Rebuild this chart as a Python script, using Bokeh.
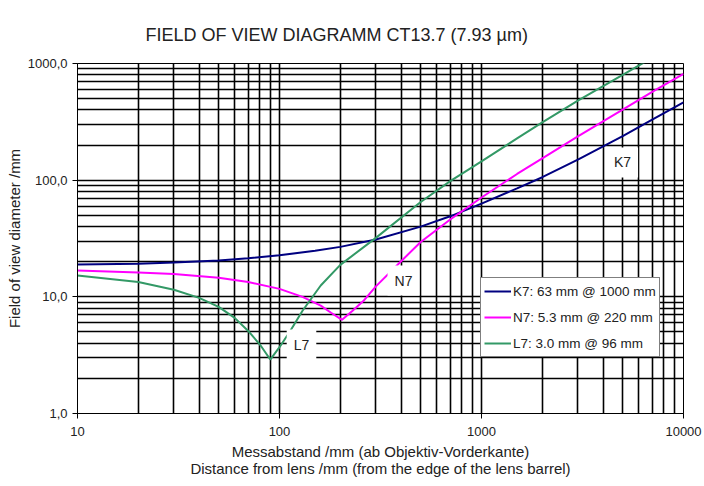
from bokeh.plotting import figure
from bokeh.models import FixedTicker, Legend, LegendItem, Label, Range1d
from bokeh.embed import file_html
from bokeh.resources import INLINE

# ---- data ----
dist_k7 = [10, 20, 30, 50, 70, 100, 150, 200, 300, 500, 700, 1000, 1500, 2000, 3000, 5000, 7000, 10000]
fov_k7 = [18.9, 19.2, 19.7, 20.5, 21.4, 22.7, 24.8, 26.8, 31, 40, 49, 63, 85, 106, 150, 238, 330, 465]

dist_n7 = [10, 20, 30, 50, 70, 100, 130, 160, 180, 204, 230, 260, 300, 400, 500, 700, 1000, 1500, 2000, 3000, 5000, 7000, 10000]
fov_n7 = [16.8, 16.2, 15.7, 14.6, 13.4, 11.7, 10.0, 8.4, 7.3, 6.35, 7.6, 9.2, 12.3, 20.2, 29.5, 46, 71, 113, 154, 237, 403, 570, 815]

dist_l7 = [10, 20, 30, 40, 50, 60, 70, 80, 90, 100, 113, 130, 160, 200, 300, 500, 700, 1000, 1500, 2000, 3000, 5000, 7000]
fov_l7 = [15.2, 13.4, 11.5, 9.8, 8.2, 6.6, 5.1, 3.9, 2.9, 3.7, 5.1, 7.6, 12.5, 18.8, 32, 65, 98, 145, 228, 313, 480, 800, 1120]

series_names = ["K7: 63 mm @ 1000 mm", "N7: 5.3 mm @ 220 mm", "L7: 3.0 mm @ 96 mm"]
curve_tags = ["K7", "N7", "L7"]
chart_title = "FIELD OF VIEW DIAGRAMM CT13.7 (7.93 \u00b5m)"

x_tick_vals = [10, 100, 1000, 10000]
x_tick_labels = ["10", "100", "1000", "10000"]
y_tick_vals = [1, 10, 100, 1000]
y_tick_labels = ["1,0", "10,0", "100,0", "1000,0"]

FONT = "Liberation Sans"
TXT = "#222222"

p = figure(width=704, height=486, x_axis_type="log", y_axis_type="log",
           x_range=Range1d(10, 10000), y_range=Range1d(1, 1000),
           output_backend="svg", toolbar_location=None,
           min_border_left=77, min_border_right=21, min_border_top=63, min_border_bottom=73)

p.title.text = chart_title
p.title.text_font = FONT
p.title.text_font_size = "18px"
p.title.text_font_style = "normal"
p.title.text_color = TXT
p.title.align = "left"
p.title.offset = 68
p.title.vertical_align = "bottom"
p.title.standoff = 37

p.outline_line_color = "black"
p.background_fill_color = "white"
p.border_fill_color = "white"

def minor_of(vals):
    out = []
    for v in vals[:-1]:
        out += [v * m for m in range(2, 10)]
    return out

xax = p.below[0]
yax = p.left[0]
xax.ticker = FixedTicker(ticks=x_tick_vals, minor_ticks=minor_of(x_tick_vals))
yax.ticker = FixedTicker(ticks=y_tick_vals, minor_ticks=minor_of(y_tick_vals))
xax.major_label_overrides = {v: s for v, s in zip(x_tick_vals, x_tick_labels)}
yax.major_label_overrides = {v: s for v, s in zip(y_tick_vals, y_tick_labels)}

for ax in (xax, yax):
    ax.axis_line_color = "black"
    ax.major_tick_line_color = "black"
    ax.major_tick_out = 5
    ax.major_tick_in = 0
    ax.minor_tick_out = 0
    ax.minor_tick_in = 0
    ax.major_label_text_font = FONT
    ax.major_label_text_font_size = "13px"
    ax.major_label_text_color = TXT
    ax.axis_label_text_font = FONT
    ax.axis_label_text_font_style = "normal"
    ax.axis_label_text_color = TXT

xax.axis_label = "Messabstand /mm (ab Objektiv-Vorderkante)\nDistance from lens /mm (from the edge of the lens barrel)"
xax.axis_label_text_font_size = "15px"
xax.axis_label_text_line_height = 1.0
xax.major_label_standoff = 8
xax.axis_label_standoff = 4
yax.axis_label = "Field of view diameter /mm"
yax.axis_label_text_font_size = "15px"
yax.major_label_standoff = 5
yax.axis_label_standoff = 2

for g in (p.xgrid, p.ygrid):
    g.grid_line_color = "black"
    g.grid_line_width = 1.6
    g.minor_grid_line_color = "black"
    g.minor_grid_line_width = 1.6

r_k7 = p.line(dist_k7, fov_k7, line_color="#000080", line_width=2)
r_n7 = p.line(dist_n7, fov_n7, line_color="#ff00ff", line_width=2)
r_l7 = p.line(dist_l7, fov_l7, line_color="#339966", line_width=2)

legend = Legend(items=[LegendItem(label=series_names[0], renderers=[r_k7]),
                       LegendItem(label=series_names[1], renderers=[r_n7]),
                       LegendItem(label=series_names[2], renderers=[r_l7])],
                location=(403, 56))
legend.border_line_color = "black"
legend.border_line_width = 1
legend.background_fill_color = "white"
legend.background_fill_alpha = 1
legend.padding = 3
legend.spacing = 6
legend.margin = 0
legend.glyph_width = 27
legend.glyph_height = 20
legend.label_height = 20
legend.label_standoff = 2
legend.label_text_font = FONT
legend.label_text_font_size = "13.5px"
legend.label_text_color = TXT
p.add_layout(legend, "center")

tag_pos = [(4990, 142), (411, 13.8), (128.5, 3.9)]
for tag, (tx, ty) in zip(curve_tags, tag_pos):
    p.add_layout(Label(x=tx, y=ty, text=tag, text_align="center", text_baseline="middle",
                       text_font=FONT, text_font_size="14px", text_color=TXT,
                       background_fill_color="white", background_fill_alpha=1, padding=7))

open("out.html", "w").write(file_html(p, INLINE))
